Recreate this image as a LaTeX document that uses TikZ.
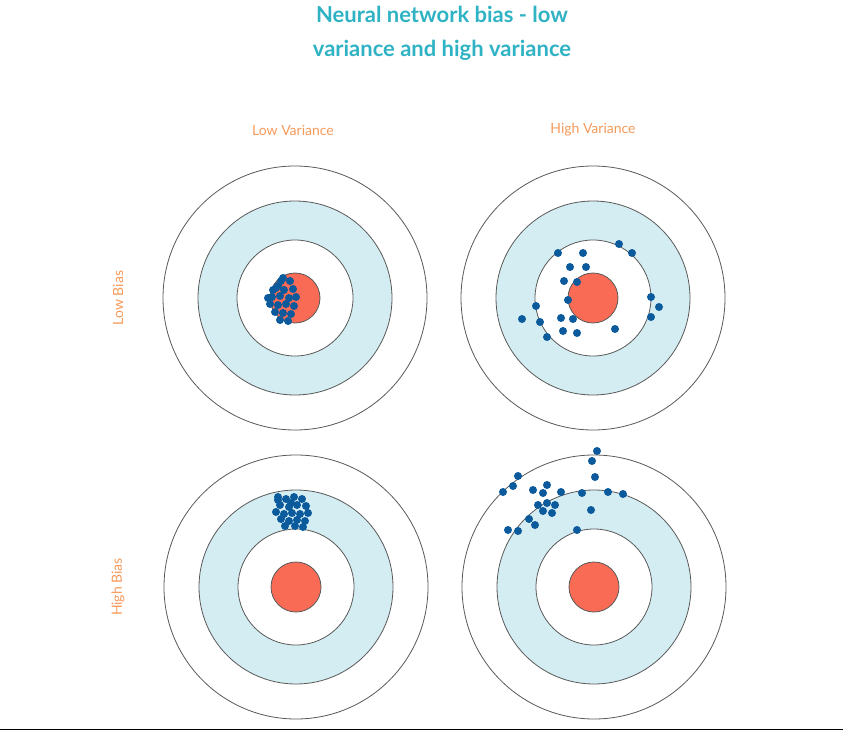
\documentclass[tikz,border=0pt]{standalone}
\usepackage{fontspec}
\setmainfont{Lato}
\begin{document}
\begin{tikzpicture}[x=1pt,y=-1pt,
  ring/.style={draw=black!65,line width=0.8pt},
  dot/.style={circle,fill=dotblue,inner sep=0pt,minimum size=8pt},
  lbl/.style={text=lorange,font=\fontsize{14}{16}\selectfont}]
\definecolor{teal1}{HTML}{2FB3C4}
\definecolor{lorange}{HTML}{F79A5A}
\definecolor{lblue}{HTML}{D4EDF2}
\definecolor{tred}{HTML}{FA6B55}
\definecolor{dotblue}{HTML}{0A5A9C}
\useasboundingbox (0,0) rectangle (843,733);
\fill[white] (0,0) rectangle (843,733);
\draw[black,line width=1pt] (0,729) -- (843,729);
\node[text=teal1,font=\bfseries\fontsize{22}{34}\selectfont,align=center] (title) at (442,33) {Neural network bias - low\\variance and high variance};
\node[lbl] (c1) at (293,130) {Low Variance};
\node[lbl] (c2) at (593,130) {High Variance};
\node[lbl,rotate=90] (r1) at (118,298) {Low Bias};
\node[lbl,rotate=90] (r2) at (118,587) {High Bias};
\foreach \cx/\cy in {295/298,593/298,296/587,594/587}{
  \draw[ring,fill=white] (\cx,\cy) circle (132);
  \draw[ring,fill=lblue] (\cx,\cy) circle (97);
  \draw[ring,fill=white] (\cx,\cy) circle (58);
  \draw[ring,fill=tred] (\cx,\cy) circle (25);
}
% top-left cluster
\foreach \x/\y in {281,278/286,283/278,290/281,276/288,284/290,293/289,272/297,280/296,289/298,296/297,270/304,278/305,286/304,294/306,275/312,283/313,291/314,280/320,288/321,273/290,268/298}
  \node[dot] at (\x,\y) {};
% top-right
\foreach \x/\y in {558/253,583/253,619/244,632/253,570/267,586/267,564/281,577/282,568/300,536/306,651/297,659/307,651/317,522/319,540/322,561/318,573/319,563/331,577/333,615/329,547/337}
  \node[dot] at (\x,\y) {};
% bottom-left
\foreach \x/\y in {278/497,286/499,294/497,302/499,280/505,289/507,297/505,306/506,276/512,284/514,292/513,300/514,308/513,281/519,289/521,297/520,305/521,285/526,295/526,303/527,291/503,278/500}
  \node[dot] at (\x,\y) {};
% bottom-right
\foreach \x/\y in {597/451,592/461,518/476,513/486,503/492,533/490,547/485,543/493,561/492,582/493,595/477,608/492,623/494,538/505,547/503,555/505,543/511,552/513,591/510,529/519,535/525,508/530,518/531,577/530}
  \node[dot] at (\x,\y) {};
\end{tikzpicture}
\end{document}
